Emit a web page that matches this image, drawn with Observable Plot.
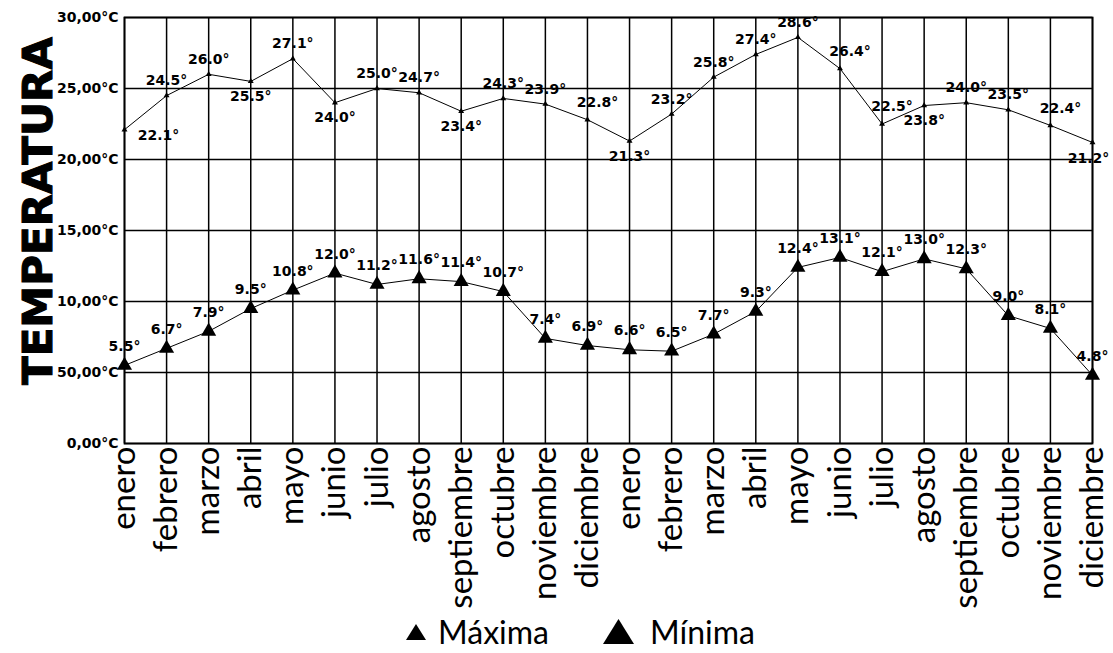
<!DOCTYPE html>
<html><head><meta charset="utf-8">
<script src="https://cdn.jsdelivr.net/npm/d3@7"></script>
<script src="https://cdn.jsdelivr.net/npm/@observablehq/plot@0.6"></script>
<style>
body{margin:0;background:#fff;}
#chart svg{display:block;}
#legend{display:flex;justify-content:center;align-items:center;gap:54px;padding-left:48px;height:43px;font-family:Lato,sans-serif;font-size:32px;color:#000;}
.item{display:flex;align-items:center;}
.item svg{display:block;}
</style></head><body>
<div id="chart"></div>
<div id="legend"></div>
<script>
const months = ["enero","febrero","marzo","abril","mayo","junio","julio","agosto","septiembre","octubre","noviembre","diciembre",
                "enero","febrero","marzo","abril","mayo","junio","julio","agosto","septiembre","octubre","noviembre","diciembre"];
const maxima = [22.1,24.5,26.0,25.5,27.1,24.0,25.0,24.7,23.4,24.3,23.9,22.8,21.3,23.2,25.8,27.4,28.6,26.4,22.5,23.8,24.0,23.5,22.4,21.2];
const minima = [5.5,6.7,7.9,9.5,10.8,12.0,11.2,11.6,11.4,10.7,7.4,6.9,6.6,6.5,7.7,9.3,12.4,13.1,12.1,13.0,12.3,9.0,8.1,4.8];
const yTickValues = [0,5,10,15,20,25,30];
const yTickLabels = ["0,00°C","50,00°C","10,00°C","15,00°C","20,00°C","25,00°C","30,00°C"];
const seriesNames = ["Máxima","Mínima"];
// label placement codes for the maxima annotations
const maxLabelPlacement = ["br","a","a","b","a","b","a","a","b","a","a","ar","b","a","a","a","a","ar","ar","b","a","a","ar","bl"];

const placeOffsets = {a:[0,-15], b:[0,15], ar:[10,-17], br:[34,6], bl:[-4,16]};

const maxData = maxima.map((v,i)=>({i, v, place:maxLabelPlacement[i]}));
const minData = minima.map((v,i)=>({i, v}));
const fmt = d => d.v.toFixed(1) + "°";
const labelFont = {fontFamily:"DejaVu Sans", fontWeight:"bold", fontSize:14, fill:"black"};

const maxLabelMarks = Object.entries(placeOffsets).map(([code,[dx,dy]]) =>
  Plot.text(maxData.filter(d=>d.place===code), {x:"i", y:"v", text:fmt, dx, dy, ...labelFont}));

const chart = Plot.plot({
  width: 1113,
  height: 610,
  marginLeft: 124,
  marginRight: 21,
  marginTop: 17,
  marginBottom: 167,
  x: {domain:[0,23]},
  y: {domain:[0,30]},
  style: {background:"white"},
  marks: [
    Plot.gridX(d3.range(24), {stroke:"black", strokeOpacity:1, strokeWidth:1.5}),
    Plot.gridY(yTickValues, {stroke:"black", strokeOpacity:1, strokeWidth:1.5}),
    Plot.frame({stroke:"black", strokeWidth:1.8}),
    Plot.axisY({ticks:yTickValues, tickFormat:(d)=>yTickLabels[yTickValues.indexOf(d)], tickSize:0, tickPadding:6,
      fontSize:14, fontWeight:"bold", fontFamily:"DejaVu Sans", label:null}),
    Plot.axisX({ticks:d3.range(24), tickFormat:(i)=>months[i], tickRotate:-90, tickSize:0, tickPadding:3,
      fontSize:33, fontFamily:"Lato", label:null}),
    Plot.line(maxData, {x:"i", y:"v", stroke:"black", strokeWidth:1}),
    Plot.line(minData, {x:"i", y:"v", stroke:"black", strokeWidth:1}),
    Plot.dot(maxData, {x:"i", y:"v", symbol:"triangle", r:2.2, fill:"black", stroke:"none"}),
    Plot.dot(minData, {x:"i", y:"v", symbol:"triangle", r:5.6, fill:"black", stroke:"none"}),
    ...maxLabelMarks,
    Plot.text(minData, {x:"i", y:"v", text:fmt, dy:-19, ...labelFont})
  ]
});
document.getElementById("chart").appendChild(chart);

// axis title
d3.select(chart).append("text")
  .attr("transform","translate(38,211) rotate(-90)")
  .attr("text-anchor","middle")
  .attr("dominant-baseline","central")
  .attr("font-family","DejaVu Sans")
  .attr("font-weight","bold")
  .attr("font-size",40)
  .attr("textLength",348)
  .attr("lengthAdjust","spacingAndGlyphs")
  .attr("fill","black")
  .attr("stroke","black")
  .attr("stroke-width",1)
  .text("TEMPERATURA");

// legend
const legend = d3.select("#legend");
const sizes = [{w:20,h:16,gap:12},{w:31,h:25,gap:16}];
seriesNames.forEach((name,k)=>{
  const it = legend.append("div").attr("class","item");
  const s = sizes[k];
  const sv = it.append("svg").attr("width",s.w).attr("height",s.h).style("margin-right",s.gap+"px");
  sv.append("polygon").attr("points",`${s.w/2},0 ${s.w},${s.h} 0,${s.h}`).attr("fill","black");
  it.append("span").text(name);
});
</script>
</body></html>
